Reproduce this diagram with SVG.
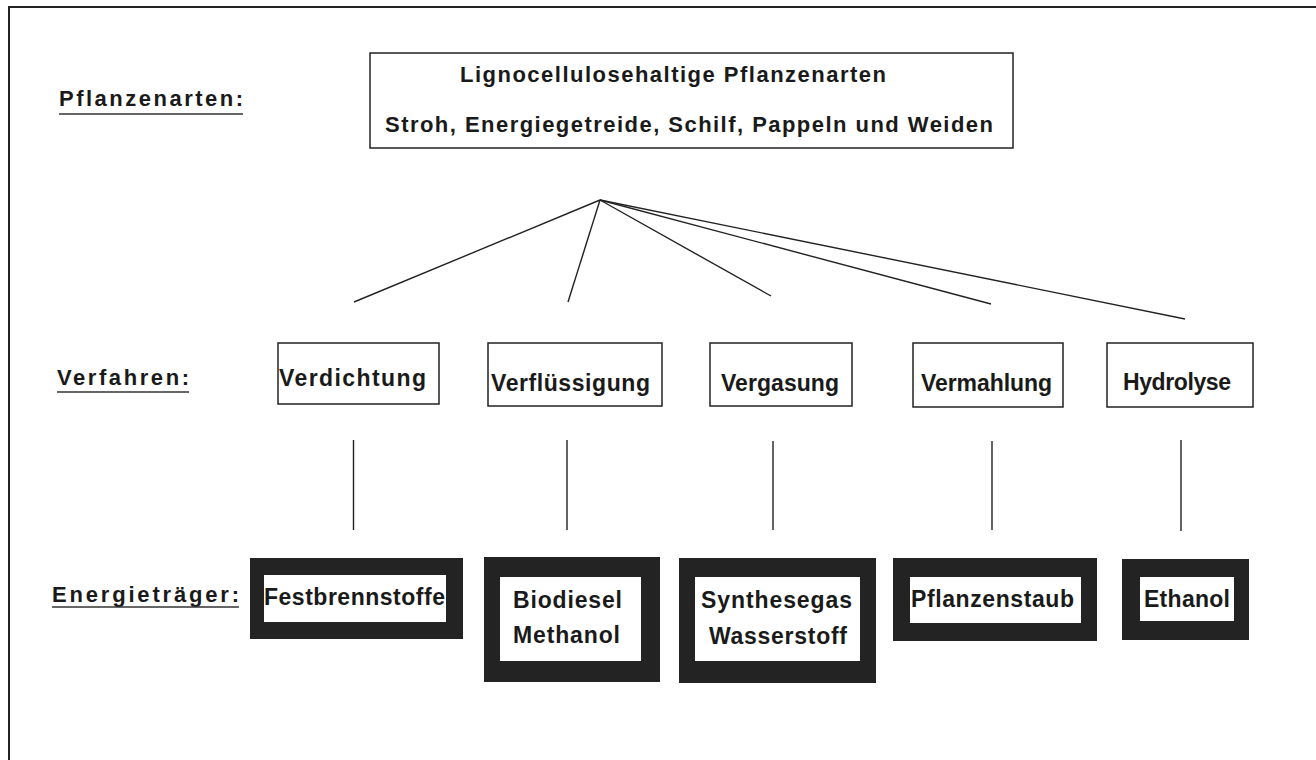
<svg xmlns="http://www.w3.org/2000/svg" width="1316" height="760" viewBox="0 0 1316 760">
  <style>
    text { font-family: "Liberation Sans", Arial, sans-serif; font-weight: bold; font-size: 22px; fill: #1a1a1a; }
    .big { font-size: 23px; }
    .box { fill: #ffffff; stroke: #222; stroke-width: 1.5; }
    .dark { fill: #232323; }
    .inner { fill: #ffffff; }
    .lbl { fill: none; stroke: #333; stroke-width: 1.5; }
    .con { stroke: #222; stroke-width: 1.4; fill: none; }
  </style>
  <rect x="0" y="0" width="1316" height="760" fill="#ffffff"/>
  <path d="M9,760 L9,7 L1316,7" fill="none" stroke="#222" stroke-width="2"/>

  <g id="labels">
    <text x="59" y="106" textLength="184" lengthAdjust="spacing">Pflanzenarten:</text>
    <line class="lbl" x1="59" y1="114" x2="243" y2="114"/>
    <text x="57" y="385" textLength="132" lengthAdjust="spacing">Verfahren:</text>
    <line class="lbl" x1="57" y1="392" x2="189" y2="392"/>
    <text x="52" y="602" textLength="187" lengthAdjust="spacing">Energieträger:</text>
    <line class="lbl" x1="52" y1="607" x2="239" y2="607"/>
  </g>

  <g id="n-top">
    <rect class="box" x="370" y="53" width="643" height="95"/>
    <text x="460" y="82" textLength="426" lengthAdjust="spacing">Lignocellulosehaltige Pflanzenarten</text>
    <text x="385" y="132" textLength="608" lengthAdjust="spacing">Stroh, Energiegetreide, Schilf, Pappeln und Weiden</text>
  </g>

  <g id="connectors">
    <line class="con" x1="600" y1="200" x2="354" y2="302"/>
    <line class="con" x1="600" y1="200" x2="568" y2="302"/>
    <line class="con" x1="600" y1="200" x2="771" y2="296"/>
    <line class="con" x1="600" y1="200" x2="991" y2="304"/>
    <line class="con" x1="600" y1="200" x2="1185" y2="319"/>
    <line class="con" x1="353.5" y1="440" x2="353.5" y2="530"/>
    <line class="con" x1="567" y1="440" x2="567" y2="530"/>
    <line class="con" x1="773" y1="441" x2="773" y2="530"/>
    <line class="con" x1="992" y1="441" x2="992" y2="530"/>
    <line class="con" x1="1181" y1="440" x2="1181" y2="531"/>
  </g>

  <g id="n-verdichtung">
    <rect class="box" x="278" y="343" width="161" height="61"/>
    <text class="big" x="279" y="386" textLength="147" lengthAdjust="spacing">Verdichtung</text>
  </g>
  <g id="n-verfluessigung">
    <rect class="box" x="488" y="343" width="174" height="63"/>
    <text class="big" x="491" y="391" textLength="159" lengthAdjust="spacing">Verflüssigung</text>
  </g>
  <g id="n-vergasung">
    <rect class="box" x="710" y="343" width="142" height="63"/>
    <text class="big" x="721" y="391" textLength="118" lengthAdjust="spacing">Vergasung</text>
  </g>
  <g id="n-vermahlung">
    <rect class="box" x="913" y="343" width="150" height="64"/>
    <text class="big" x="921" y="391" textLength="131" lengthAdjust="spacing">Vermahlung</text>
  </g>
  <g id="n-hydrolyse">
    <rect class="box" x="1107" y="343" width="146" height="64"/>
    <text class="big" x="1123" y="390" textLength="108" lengthAdjust="spacing">Hydrolyse</text>
  </g>

  <g id="n-festbrennstoffe">
    <rect class="dark" x="250" y="558" width="213" height="81"/>
    <rect class="inner" x="264" y="575" width="182" height="47"/>
    <text class="big" x="264" y="605" textLength="181" lengthAdjust="spacing">Festbrennstoffe</text>
  </g>
  <g id="n-biodiesel">
    <rect class="dark" x="484" y="557" width="176" height="125"/>
    <rect class="inner" x="500" y="577" width="141" height="84"/>
    <text class="big" x="513" y="608" textLength="109" lengthAdjust="spacing">Biodiesel</text>
    <text class="big" x="513" y="643" textLength="107" lengthAdjust="spacing">Methanol</text>
  </g>
  <g id="n-synthesegas">
    <rect class="dark" x="679" y="558" width="197" height="125"/>
    <rect class="inner" x="695" y="577" width="165" height="84"/>
    <text class="big" x="701" y="608" textLength="151" lengthAdjust="spacing">Synthesegas</text>
    <text class="big" x="709" y="644" textLength="138" lengthAdjust="spacing">Wasserstoff</text>
  </g>
  <g id="n-pflanzenstaub">
    <rect class="dark" x="893" y="558" width="204" height="83"/>
    <rect class="inner" x="910" y="577" width="171" height="46"/>
    <text class="big" x="911" y="607" textLength="163" lengthAdjust="spacing">Pflanzenstaub</text>
  </g>
  <g id="n-ethanol">
    <rect class="dark" x="1122" y="559" width="127" height="81"/>
    <rect class="inner" x="1140" y="577" width="94" height="44"/>
    <text class="big" x="1144" y="607" textLength="86" lengthAdjust="spacing">Ethanol</text>
  </g>
</svg>
